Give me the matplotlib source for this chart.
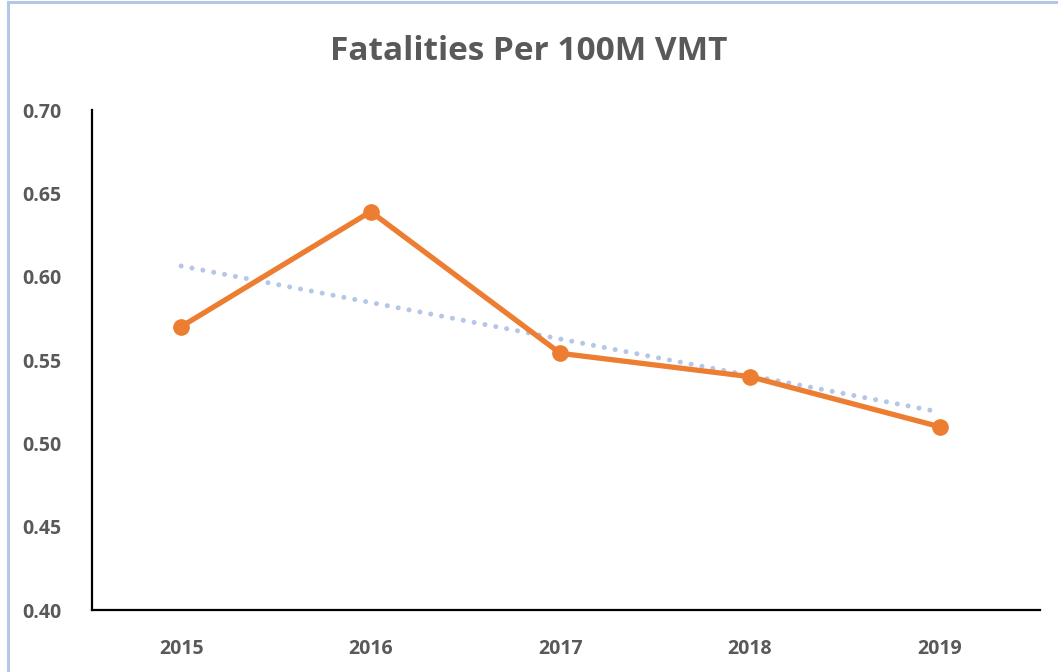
import numpy as np
import matplotlib
matplotlib.use("Agg")
import matplotlib.pyplot as plt
from matplotlib.patches import Rectangle

years = ["2015", "2016", "2017", "2018", "2019"]
rate = [0.570, 0.639, 0.554, 0.540, 0.510]   # fatalities per 100M VMT

ORANGE = "#ED7D31"
TREND = "#B4C7E7"
GRAY = "#595959"

plt.rcParams["font.family"] = ["Open Sans", "DejaVu Sans"]

fig = plt.figure(figsize=(10.58, 6.72), dpi=100)
ax = fig.add_axes([92/1058, 62/672, 948/1058, 500/672])

x = np.arange(1, len(years) + 1)
y = np.array(rate)

# linear trendline (least squares), like the spreadsheet one
k, b = np.polyfit(x, y, 1)
ax.plot(x, k*x + b, color=TREND, lw=3.6, ls=(0, (0.01, 2.2)),
        dash_capstyle="round", zorder=2)
ax.plot(x, y, color=ORANGE, lw=3.8, marker="o", ms=11, zorder=3)

ax.set_xlim(0.53, 5.53)
ax.set_ylim(0.40, 0.70)
ax.set_yticks(np.arange(0.40, 0.701, 0.05))
ax.set_yticklabels([f"{v:.2f}" for v in np.arange(0.40, 0.701, 0.05)])
ax.set_xticks(x)
ax.set_xticklabels(years)
ax.tick_params(axis="both", length=0, labelsize=14, labelcolor=GRAY)
ax.tick_params(axis="y", pad=22)
ax.tick_params(axis="x", pad=21)
for t in ax.get_xticklabels() + ax.get_yticklabels():
    t.set_fontweight("bold")

for s in ("top", "right"):
    ax.spines[s].set_visible(False)
for s in ("left", "bottom"):
    ax.spines[s].set_linewidth(1.6)
    ax.spines[s].set_color("black")

fig.text(0.5, 0.924, "Fatalities Per 100M VMT", ha="center", va="center",
         fontsize=24, fontweight="bold", color=GRAY)

# light frame of the chart area
fig.patches.append(Rectangle((8/1058, -0.1), 1.2, 0.1 + 670/672,
                             transform=fig.transFigure, fill=False,
                             ec=TREND, lw=2.2))

fig.savefig("out.png", dpi=100)
